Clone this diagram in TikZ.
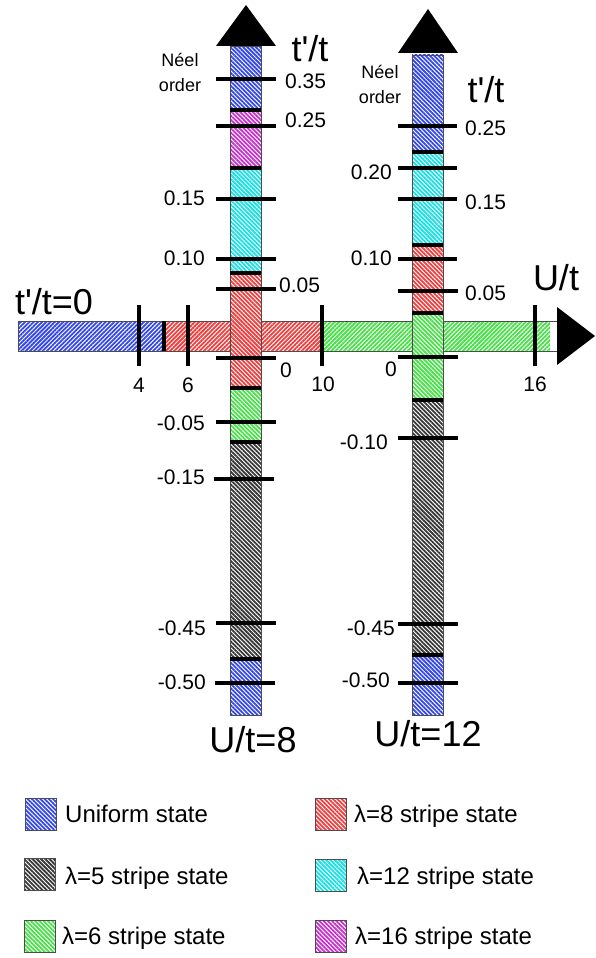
\documentclass[tikz,border=0pt]{standalone}
\usepackage{fontspec}
\setmainfont{Liberation Sans}
\usetikzlibrary{patterns.meta}
\definecolor{unif}{RGB}{50,70,235}
\definecolor{lamfive}{RGB}{55,55,55}
\definecolor{lamsix}{RGB}{70,225,70}
\definecolor{lameight}{RGB}{240,60,60}
\definecolor{lamtwelve}{RGB}{20,225,230}
\definecolor{lamsixteen}{RGB}{200,45,205}
\newcommand{\tpt}{t\textquotesingle/t}
\tikzset{
  vhatch/.style={preaction={fill=white},pattern={Lines[angle=-45,distance=3pt,line width=1.8pt]},pattern color=#1},
  hhatch/.style={preaction={fill=white},pattern={Lines[angle=45,distance=3pt,line width=1.8pt]},pattern color=#1},
  barframe/.style={draw=black!70,line width=0.8pt},
  sepline/.style={line width=3.6pt},
  tickline/.style={line width=3.8pt},
  ticklab/.style={inner sep=0pt,font=\fontsize{21}{25}\selectfont},
  biglab/.style={inner sep=0pt,font=\fontsize{36}{40}\selectfont},
  neellab/.style={inner sep=0pt,align=center,font=\fontsize{18}{25}\selectfont},
  keybox/.style={draw=black!70,line width=0.8pt,minimum width=31pt,minimum height=32pt,inner sep=0pt},
  keylab/.style={inner sep=0pt,anchor=base west,font=\fontsize{24}{28}\selectfont}
}
\begin{document}
\begin{tikzpicture}[x=1pt,y=-1pt]
  \useasboundingbox (0,0) rectangle (595,958);
  \path[hhatch=unif] (18,321) rectangle (164,351);
  \path[hhatch=lameight] (164,321) rectangle (322,351);
  \path[hhatch=lamsix] (322,321) rectangle (550,351);
  \draw[barframe] (18,321) rectangle (557,351);
  \draw[sepline] (164,321) -- (164,351);
  \fill (557,307) -- (595,336) -- (557,365) -- cycle;

  \path[vhatch=unif] (230,46) rectangle (261,110);
  \path[vhatch=lamsixteen] (230,110) rectangle (261,168);
  \path[vhatch=lamtwelve] (230,168) rectangle (261,273);
  \path[vhatch=lameight] (230,273) rectangle (261,388);
  \path[vhatch=lamsix] (230,388) rectangle (261,442);
  \path[vhatch=lamfive] (230,442) rectangle (261,659);
  \path[vhatch=unif] (230,659) rectangle (261,715);
  \draw[barframe] (230,46) rectangle (261,715);
  \draw[sepline] (230,110) -- (261,110);
  \draw[sepline] (230,168) -- (261,168);
  \draw[sepline] (230,273) -- (261,273);
  \draw[sepline] (230,388) -- (261,388);
  \draw[sepline] (230,442) -- (261,442);
  \draw[sepline] (230,659) -- (261,659);
  \fill (216,46) -- (246,5) -- (276,46) -- cycle;

  \path[vhatch=unif] (412,55) rectangle (443,152);
  \path[vhatch=lamtwelve] (412,152) rectangle (443,245);
  \path[vhatch=lameight] (412,245) rectangle (443,313);
  \path[vhatch=lamsix] (412,313) rectangle (443,400);
  \path[vhatch=lamfive] (412,400) rectangle (443,655);
  \path[vhatch=unif] (412,655) rectangle (443,715);
  \draw[barframe] (412,55) rectangle (443,715);
  \draw[sepline] (412,152) -- (443,152);
  \draw[sepline] (412,245) -- (443,245);
  \draw[sepline] (412,313) -- (443,313);
  \draw[sepline] (412,400) -- (443,400);
  \draw[sepline] (412,655) -- (443,655);
  \fill (398,53) -- (428,9) -- (458,53) -- cycle;

  \draw[tickline] (139,305) -- (139,366);
  \draw[tickline] (188,305) -- (188,366);
  \draw[tickline] (322,305) -- (322,366);
  \draw[tickline] (535,305) -- (535,366);
  \node[ticklab] (u4) at (139,385) {4};
  \node[ticklab] (u6) at (188,385) {6};
  \node[ticklab] (u10) at (323,384) {10};
  \node[ticklab] (u16) at (535,384) {16};

  \draw[tickline] (216,79) -- (276,79);
  \draw[tickline] (216,126) -- (276,126);
  \draw[tickline] (216,199) -- (276,199);
  \draw[tickline] (216,259) -- (276,259);
  \draw[tickline] (216,289) -- (276,289);
  \draw[tickline] (216,358) -- (276,358);
  \draw[tickline] (216,422) -- (276,422);
  \draw[tickline] (214,479) -- (274,479);
  \draw[tickline] (216,623) -- (276,623);
  \draw[tickline] (215,683) -- (275,683);
  \node[ticklab,anchor=west] (a35) at (285,81) {0.35};
  \node[ticklab,anchor=west] (a25) at (285,120) {0.25};
  \node[ticklab,anchor=east] (a15) at (205,198) {0.15};
  \node[ticklab,anchor=east] (a10) at (205,258) {0.10};
  \node[ticklab,anchor=west] (a05) at (279,285) {0.05};
  \node[ticklab,anchor=west] (a00) at (280,370) {0};
  \node[ticklab,anchor=east] (am05) at (205,423) {-0.05};
  \node[ticklab,anchor=east] (am15) at (205,477) {-0.15};
  \node[ticklab,anchor=east] (am45) at (206,628) {-0.45};
  \node[ticklab,anchor=east] (am50) at (206,682) {-0.50};

  \draw[tickline] (398,126) -- (457,126);
  \draw[tickline] (398,168) -- (457,168);
  \draw[tickline] (398,199) -- (457,199);
  \draw[tickline] (398,259) -- (457,259);
  \draw[tickline] (398,291) -- (458,291);
  \draw[tickline] (398,357) -- (458,357);
  \draw[tickline] (398,438) -- (458,438);
  \draw[tickline] (398,624) -- (458,624);
  \draw[tickline] (398,683) -- (458,683);
  \node[ticklab,anchor=west] (b25) at (465,128) {0.25};
  \node[ticklab,anchor=east] (b20) at (392,172) {0.20};
  \node[ticklab,anchor=west] (b15) at (465,202) {0.15};
  \node[ticklab,anchor=east] (b10) at (392,258) {0.10};
  \node[ticklab,anchor=west] (b05) at (465,293) {0.05};
  \node[ticklab,anchor=east] (b00) at (397,369) {0};
  \node[ticklab,anchor=east] (bm10) at (388,442) {-0.10};
  \node[ticklab,anchor=east] (bm45) at (395,628) {-0.45};
  \node[ticklab,anchor=east] (bm50) at (390,680) {-0.50};

  \node[neellab] (neela) at (180,72) {Néel\\order};
  \node[neellab] (neelb) at (380,84) {Néel\\order};
  \node[biglab] (tpa) at (310,49) {\tpt};
  \node[biglab] (tpb) at (486,90) {\tpt};
  \node[biglab] (ut) at (556,278) {U/t};
  \node[biglab] (tzero) at (54,302) {\tpt=0};
  \node[biglab] (ueight) at (253,740) {U/t=8};
  \node[biglab] (utwelve) at (428,734) {U/t=12};

  \node[keybox,vhatch=unif] (kunif) at (41,814) {};
  \node[keybox,vhatch=lamfive] (kfive) at (40,874) {};
  \node[keybox,vhatch=lamsix] (ksix) at (40,936) {};
  \node[keybox,vhatch=lameight] (keight) at (331,814) {};
  \node[keybox,vhatch=lamtwelve] (ktwelve) at (331,875) {};
  \node[keybox,vhatch=lamsixteen] (ksixteen) at (331,936) {};
  \node[keylab] (tunif) at (65,822) {Uniform state};
  \node[keylab] (tfive) at (65,884) {λ=5 stripe state};
  \node[keylab] (tsix) at (62,944) {λ=6 stripe state};
  \node[keylab] (teight) at (354,822) {λ=8 stripe state};
  \node[keylab] (ttwelve) at (357,884) {λ=12 stripe state};
  \node[keylab] (tsixteen) at (355,944) {λ=16 stripe state};
\end{tikzpicture}
\end{document}
